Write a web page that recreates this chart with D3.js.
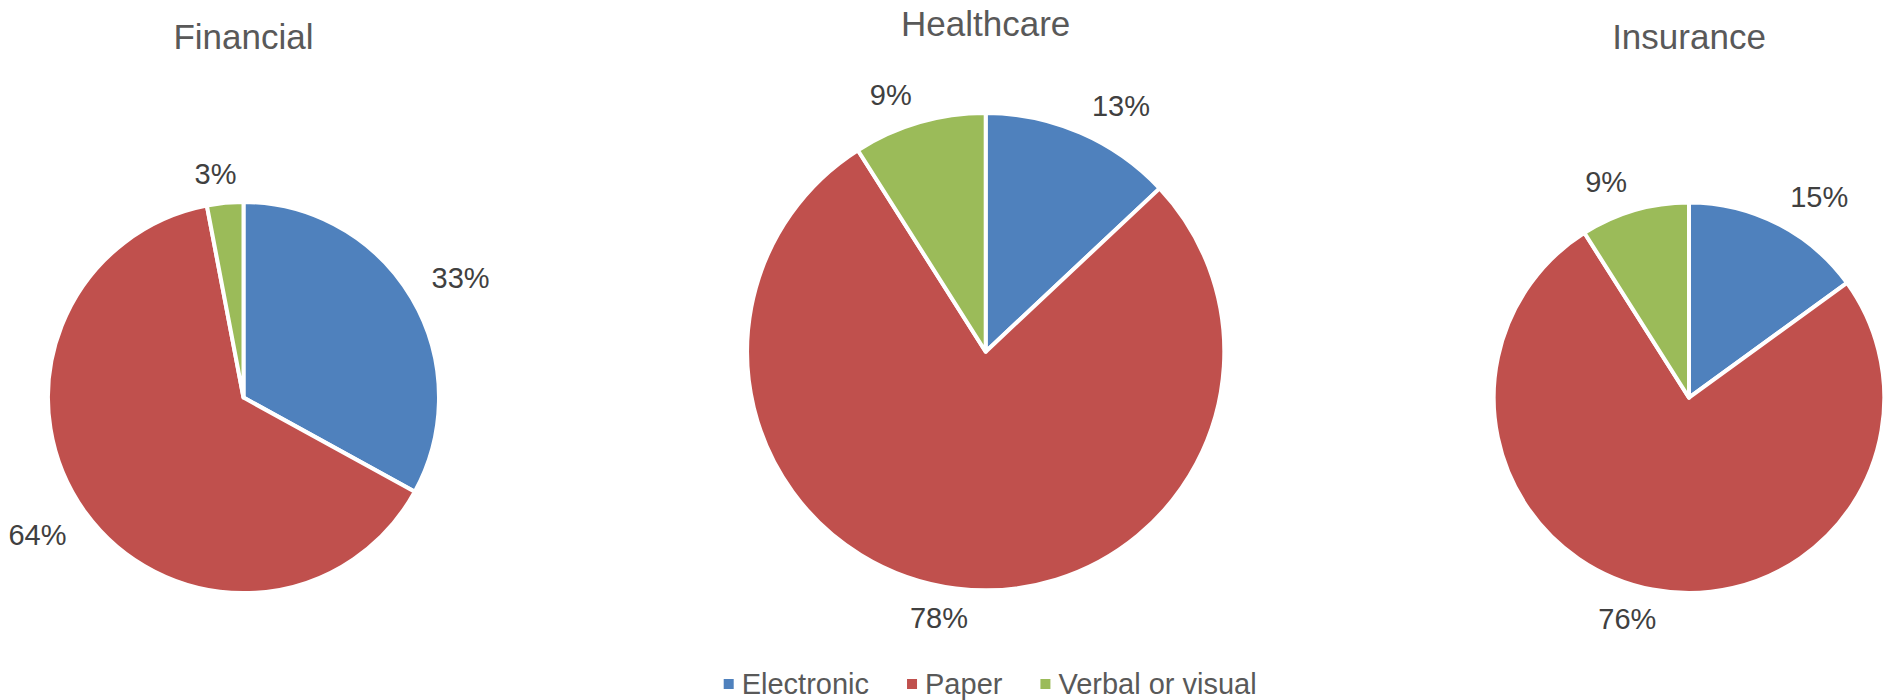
<!DOCTYPE html>
<html>
<head>
<meta charset="utf-8">
<script src="https://cdn.jsdelivr.net/npm/d3@7/dist/d3.min.js"></script>
<style>
  html, body { margin: 0; padding: 0; background: #ffffff; }
  svg { display: block; }
  text { font-family: "Liberation Sans", Arial, sans-serif; }
</style>
</head>
<body>
<svg id="chart" width="1887" height="700"></svg>
<script>
// Share of records by medium, per industry sector (percent)
const categories = ["Electronic", "Paper", "Verbal or visual"];
const sectors = ["Financial", "Healthcare", "Insurance"];
const financial = [33, 64, 3];
const healthcare = [13, 78, 9];
const insurance = [15, 76, 9];
const seriesBySector = [financial, healthcare, insurance];

// Panel geometry for the three pies (centre, radius of the filled area, title baseline)
const panels = [
  { cx: 243.5, cy: 397.6, r: 193.5, titleY: 49 },
  { cx: 985.7, cy: 351.7, r: 236.6, titleY: 36 },
  { cx: 1689.0, cy: 397.7, r: 193.3, titleY: 49 }
];

const colors = d3.scaleOrdinal()
  .domain(categories)
  .range(["#4F81BD", "#C0504D", "#9BBB59"]);

const svg = d3.select("#chart");
const strokeW = 4;
const labelGap = 20;
const labelHalfH = 11;
const pctFmt = d3.format(".0%");

const pie = d3.pie().sort(null).value(d => d.value);

sectors.forEach((name, i) => {
  const p = panels[i];
  const values = seriesBySector[i];
  const total = d3.sum(values);
  const rows = categories.map((c, j) => ({ category: c, value: values[j] }));
  const arcs = pie(rows);

  const g = svg.append("g").attr("transform", `translate(${p.cx},${p.cy})`);

  const arc = d3.arc().innerRadius(0).outerRadius(p.r + strokeW / 2);

  g.selectAll("path.slice")
    .data(arcs)
    .join("path")
    .attr("class", "slice")
    .attr("d", arc)
    .attr("fill", d => colors(d.data.category))
    .attr("stroke", "#ffffff")
    .attr("stroke-width", strokeW)
    .attr("stroke-linejoin", "round");

  // Title
  svg.append("text")
    .attr("x", p.cx)
    .attr("y", p.titleY)
    .attr("text-anchor", "middle")
    .attr("font-size", 35)
    .attr("fill", "#595959")
    .text(name);

  // Percentage labels placed outside the rim, box pushed sideways away from the vertical axis
  const labels = g.selectAll("text.pct")
    .data(arcs)
    .join("text")
    .attr("class", "pct")
    .attr("text-anchor", "middle")
    .attr("font-size", 29)
    .attr("fill", "#404040")
    .text(d => pctFmt(d.data.value / total));

  labels.each(function (d) {
    const w = this.getComputedTextLength();
    const theta = (d.startAngle + d.endAngle) / 2;
    const s = Math.sin(theta), c = Math.cos(theta);
    const R = p.r + labelGap;
    const sx = Math.max(-1.15, Math.min(1.15, s * 4));
    const sy = Math.max(-1, Math.min(1, c * 2));
    const x = R * s + sx * w / 2;
    const y = -R * c - sy * labelHalfH;
    d3.select(this).attr("x", x).attr("y", y).attr("dy", "0.36em");
  });
});

// Legend
const legend = svg.append("g").attr("transform", "translate(723.7,694)");
let xCursor = 0;
categories.forEach(c => {
  const item = legend.append("g").attr("transform", `translate(${xCursor},0)`);
  item.append("rect")
    .attr("x", 0)
    .attr("y", -15)
    .attr("width", 10)
    .attr("height", 10)
    .attr("fill", colors(c));
  const t = item.append("text")
    .attr("x", 18)
    .attr("y", 0)
    .attr("font-size", 29)
    .attr("fill", "#595959")
    .text(c);
  xCursor += 18 + t.node().getComputedTextLength() + 38;
});
</script>
</body>
</html>
